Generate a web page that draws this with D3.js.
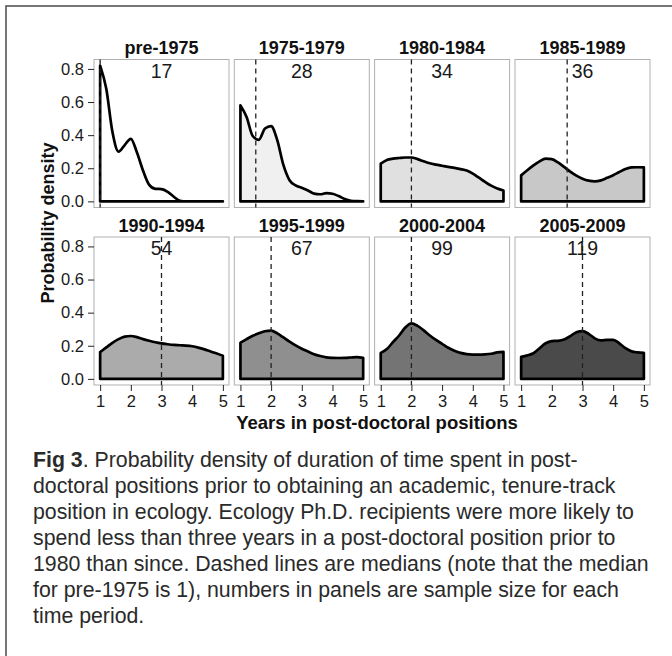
<!DOCTYPE html>
<html lang="en">
<head>
<meta charset="utf-8">
<title>Fig 3 - post-doctoral duration density</title>
<script src="https://cdn.jsdelivr.net/npm/d3@7"></script>
<style>
  body { margin: 0; background: #fff; font-family: "Liberation Sans", Arial, Helvetica, sans-serif; }
  svg { display: block; }
  svg text { font-family: "Liberation Sans", Arial, Helvetica, sans-serif; }
</style>
</head>
<body>
<div id="chart"></div>
<script>
// facets: hiring period, sample size, median years
var periods = ["pre-1975", "1975-1979", "1980-1984", "1985-1989", "1990-1994", "1995-1999", "2000-2004", "2005-2009"];
var sampleSizes = [17, 28, 34, 36, 54, 67, 99, 119];
var medians = [1, 1.5, 2, 2.5, 3, 2, 2, 3];
var fills = ["#ffffff", "#f0f0f0", "#e0e0e0", "#c8c8c8", "#ababab", "#8f8f8f", "#747474", "#4a4a4a"];

// x grid (years) the densities were read at
var years = [1, 1.2, 1.4, 1.6, 1.8, 2, 2.2, 2.4, 2.6, 2.8, 3, 3.2, 3.4, 3.6, 3.8, 4, 4.2, 4.4, 4.6, 4.8, 5];

// density values, one array per panel
var dPre1975 = [0.82, 0.68, 0.42, 0.30, 0.34, 0.378, 0.295, 0.185, 0.10, 0.076, 0.074, 0.058, 0.028, 0.004, 0, 0, 0, 0, 0, 0, 0];
var d1975 = [0.58, 0.51, 0.395, 0.372, 0.44, 0.455, 0.37, 0.22, 0.128, 0.097, 0.082, 0.066, 0.047, 0.043, 0.05, 0.046, 0.032, 0.014, 0.004, 0.001, 0];
var d1980 = [0.228, 0.25, 0.258, 0.262, 0.265, 0.265, 0.255, 0.242, 0.23, 0.222, 0.215, 0.208, 0.202, 0.195, 0.186, 0.168, 0.143, 0.118, 0.095, 0.078, 0.066];
var d1985 = [0.157, 0.188, 0.217, 0.242, 0.258, 0.255, 0.235, 0.208, 0.18, 0.156, 0.137, 0.125, 0.121, 0.127, 0.142, 0.158, 0.177, 0.195, 0.205, 0.206, 0.205];
var d1990 = [0.162, 0.19, 0.218, 0.24, 0.255, 0.259, 0.252, 0.24, 0.23, 0.221, 0.214, 0.209, 0.205, 0.203, 0.201, 0.197, 0.189, 0.178, 0.165, 0.153, 0.14];
var d1995 = [0.218, 0.24, 0.26, 0.275, 0.288, 0.292, 0.275, 0.25, 0.225, 0.202, 0.182, 0.165, 0.149, 0.138, 0.13, 0.127, 0.126, 0.127, 0.129, 0.131, 0.127];
var d2000 = [0.157, 0.18, 0.222, 0.262, 0.31, 0.335, 0.32, 0.293, 0.262, 0.235, 0.212, 0.188, 0.17, 0.157, 0.15, 0.147, 0.146, 0.148, 0.152, 0.16, 0.163];
var d2005 = [0.133, 0.142, 0.155, 0.185, 0.215, 0.228, 0.23, 0.238, 0.258, 0.282, 0.288, 0.272, 0.245, 0.232, 0.235, 0.236, 0.215, 0.185, 0.166, 0.16, 0.157];
var densities = [dPre1975, d1975, d1980, d1985, d1990, d1995, d2000, d2005];

var xTicks = [1, 2, 3, 4, 5];
var yTicks = [0, 0.2, 0.4, 0.6, 0.8];

var caption = [
  "doctoral positions prior to obtaining an academic, tenure-track",
  "position in ecology. Ecology Ph.D. recipients were more likely to",
  "spend less than three years in a post-doctoral position prior to",
  "1980 than since. Dashed lines are medians (note that the median",
  "for pre-1975 is 1), numbers in panels are sample size for each",
  "time period."
];

var W = 672, H = 656;
var svg = d3.select("#chart").append("svg").attr("width", W).attr("height", H);

// outer frame (clipped on the right and bottom like the figure)
svg.append("rect").attr("x", 6).attr("y", 6).attr("width", 720).attr("height", 720)
  .attr("fill", "none").attr("stroke", "#555").attr("stroke-width", 1.6);

// panel layout
var pw = 135, ph = 148;
var colX = [94, 234.3, 374.6, 515];
var rowY = [59.5, 237];

var x = d3.scaleLinear().domain([0.8, 5.2]).range([0, pw]);
var y = d3.scaleLinear().domain([-0.037, 0.857]).range([ph, 0]);

var area = d3.area()
  .x(function(d, i) { return x(years[i]); })
  .y0(y(0))
  .y1(function(d) { return y(d); })
  .curve(d3.curveMonotoneX);

periods.forEach(function(p, k) {
  var col = k % 4, row = Math.floor(k / 4);
  var g = svg.append("g").attr("transform", "translate(" + colX[col] + "," + rowY[row] + ")");

  g.append("rect").attr("x", 0).attr("y", 0).attr("width", pw).attr("height", ph)
    .attr("fill", "#fff").attr("stroke", "#b0b0b0").attr("stroke-width", 1);

  g.append("path").datum(densities[k])
    .attr("d", area)
    .attr("fill", fills[k])
    .attr("stroke", "#000")
    .attr("stroke-width", 2.7)
    .attr("stroke-linejoin", "round");

  // median
  g.append("line")
    .attr("x1", x(medians[k])).attr("x2", x(medians[k]))
    .attr("y1", 0).attr("y2", ph)
    .attr("stroke", "#222").attr("stroke-width", 1.3)
    .attr("stroke-dasharray", "5,4");

  // sample size
  g.append("text")
    .attr("x", x(3)).attr("y", y(0.8)).attr("dy", "0.45em")
    .attr("text-anchor", "middle")
    .style("font-size", "19.5px").style("fill", "#1a1a1a")
    .text(sampleSizes[k]);

  // strip title
  g.append("text")
    .attr("x", pw / 2).attr("y", -5.5)
    .attr("text-anchor", "middle")
    .style("font-size", "18px").style("font-weight", "bold").style("fill", "#111")
    .text(p);

  // y axis on first column
  if (col === 0) {
    var ya = g.append("g").call(d3.axisLeft(y).tickValues(yTicks).tickFormat(d3.format(".1f")).tickSize(6).tickPadding(4));
    ya.attr("font-family", null).attr("font-size", null);
    ya.select(".domain").remove();
    ya.selectAll("line").attr("stroke", "#222");
    ya.selectAll("text").style("font-size", "16.5px").style("fill", "#1a1a1a");
  }
  // x axis on bottom row
  if (row === 1) {
    var xa = g.append("g").attr("transform", "translate(0," + ph + ")")
      .call(d3.axisBottom(x).tickValues(xTicks).tickFormat(d3.format("d")).tickSize(6).tickPadding(4));
    xa.attr("font-family", null).attr("font-size", null);
    xa.select(".domain").remove();
    xa.selectAll("line").attr("stroke", "#222");
    xa.selectAll("text").style("font-size", "16.5px").style("fill", "#1a1a1a");
  }
});

// axis titles
svg.append("text")
  .attr("transform", "translate(54,223) rotate(-90)")
  .attr("text-anchor", "middle")
  .style("font-size", "18px").style("font-weight", "bold").style("fill", "#111")
  .text("Probability density");

svg.append("text")
  .attr("x", 377).attr("y", 429)
  .attr("text-anchor", "middle")
  .style("font-size", "18.5px").style("font-weight", "bold").style("fill", "#111")
  .text("Years in post-doctoral positions");

// caption
var cap = svg.append("g").style("font-size", "21.3px").style("fill", "#2a2a2a");
var first = cap.append("text").attr("x", 33).attr("y", 467);
first.append("tspan").style("font-weight", "bold").text("Fig 3");
first.append("tspan").text(". Probability density of duration of time spent in post-");
caption.forEach(function(line, i) {
  cap.append("text").attr("x", 33).attr("y", 467 + (i + 1) * 26).text(line);
});
</script>
</body>
</html>
